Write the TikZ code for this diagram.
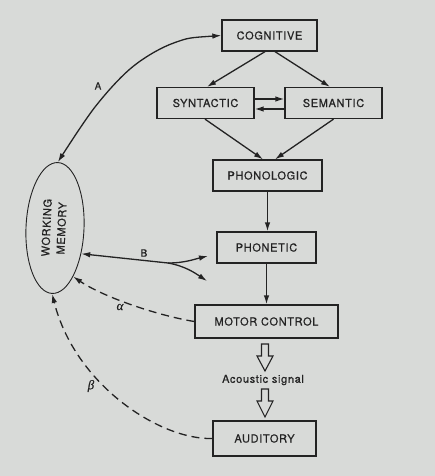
\documentclass[tikz,border=0pt]{standalone}
\usepackage{fontspec}
\setmainfont{TeX Gyre Heros}
\newfontfamily\boxfont[LetterSpace=6,FakeBold=0.6]{TeX Gyre Heros}
\newfontfamily\lblfont[FakeBold=0.6]{TeX Gyre Heros}
\newfontfamily\grfont[FakeBold=0.6]{Liberation Serif}
\usetikzlibrary{arrows.meta,shapes.geometric}
\definecolor{paper}{RGB}{216,218,216}
\definecolor{ink}{RGB}{35,35,35}
\begin{document}
\begin{tikzpicture}[x=1pt,y=-1pt,
  box/.style={draw=ink, line width=1.3pt, minimum height=31pt, inner sep=0pt,
    font=\boxfont\fontsize{11}{13}\selectfont, text=ink},
  conn/.style={draw=ink, line width=1.3pt, -{Latex[length=9pt,width=5.5pt]}},
  connback/.style={draw=ink, line width=1.3pt, {Latex[length=9pt,width=5.5pt]}-},
  connboth/.style={draw=ink, line width=1.3pt, {Latex[length=9pt,width=5.5pt]}-{Latex[length=9pt,width=5.5pt]}},
  dashconn/.style={draw=ink, line width=1.3pt, dash pattern=on 8pt off 5pt, -{Latex[length=9pt,width=5.5pt]}},
  lbl/.style={font=\lblfont\fontsize{10}{11}\selectfont, text=ink, inner sep=0pt},
  glbl/.style={font=\grfont\itshape\fontsize{13}{14}\selectfont, text=ink, inner sep=0pt},
  hollow/.style={draw=ink, line width=1.1pt, fill=paper, line join=miter}
]
\fill[paper] (0,0) rectangle (435,476);
\useasboundingbox (0,0) rectangle (435,476);

% boxes
\node[box, minimum width=95pt] (cog) at (269.5,35.5) {COGNITIVE};
\node[box, minimum width=97pt] (syn) at (205.5,103) {SYNTACTIC};
\node[box, minimum width=97pt] (sem) at (333.5,103) {SEMANTIC};
\node[box, minimum width=109pt] (phl) at (267.5,175.5) {PHONOLOGIC};
\node[box, minimum width=99pt] (pht) at (266.5,247.5) {PHONETIC};
\node[box, minimum width=143pt, minimum height=33pt] (mc) at (266.5,321.5) {MOTOR CONTROL};
\node[box, minimum width=103pt, minimum height=35pt] (aud) at (264.5,438.5) {AUDITORY};
\node[font=\boxfont\fontsize{11}{13}\selectfont, text=ink, inner sep=0pt] (ac) at (263,380) {Acoustic signal};

% working memory
\node[draw=ink, line width=0.9pt, ellipse, minimum width=58pt, minimum height=131pt,
  inner sep=0pt, rotate=-2.5, text=ink, font=\boxfont\fontsize{11}{15}\selectfont] (wm) at (55,228)
  {\rotatebox{90}{\begin{tabular}{@{}c@{}}WORKING\\MEMORY\end{tabular}}};

% main flow
\draw[conn] ([xshift=-4.5pt]cog.south) -- ([xshift=1.5pt]syn.north);
\draw[conn] ([xshift=5.5pt]cog.south) -- ([xshift=-3.5pt]sem.north);
\draw[conn] ([yshift=4pt]syn.east) -- ([yshift=4pt]sem.west);
\draw[conn] ([yshift=-6pt]sem.west) -- ([yshift=-6pt]syn.east);
\draw[conn] ([xshift=-0.5pt]syn.south) -- ([xshift=-4.5pt]phl.north);
\draw[conn] (sem.south) -- ([xshift=7.5pt]phl.north);
\draw[conn] (phl.south) -- (phl.south |- pht.north);
\draw[conn] (pht.south) -- (pht.south |- mc.north);

% hollow arrows
\draw[hollow] (261.5,344) -- (268.5,344) -- (268.5,356) -- (273,356) -- (265,371)
  -- (257,356) -- (261.5,356) -- cycle;
\draw[hollow] (261.5,389) -- (268.5,389) -- (268.5,401) -- (273,401) -- (265,417)
  -- (257,401) -- (261.5,401) -- cycle;

% A
\draw[connboth] plot[smooth, tension=0.55] coordinates {(cog.west) (175,42.5) (133,66.5) (95,107) (wm.north)};
\node[lbl] (la) at (98,86) {A};

% B
\coordinate (bj) at (168,263);
\coordinate (b1) at (208,256);
\coordinate (b2) at (207,281);
\draw[connback] (wm.318) -- (bj);
\draw[conn] (bj) .. controls (185,263) and (195,259) .. (b1);
\draw[conn] (bj) .. controls (185,266) and (195,273) .. (b2);
\node[lbl] (lb) at (144,253) {B};

% alpha, beta
\draw[dashconn] (mc.west) .. controls (160,316) and (105,298) .. (wm.293);
\node[glbl] (lal) at (120,307) {α};
\draw[dashconn] (aud.west) .. controls (160,440) and (75,385) .. (wm.south);
\node[glbl] (lbe) at (91,386) {β};
\end{tikzpicture}
\end{document}
